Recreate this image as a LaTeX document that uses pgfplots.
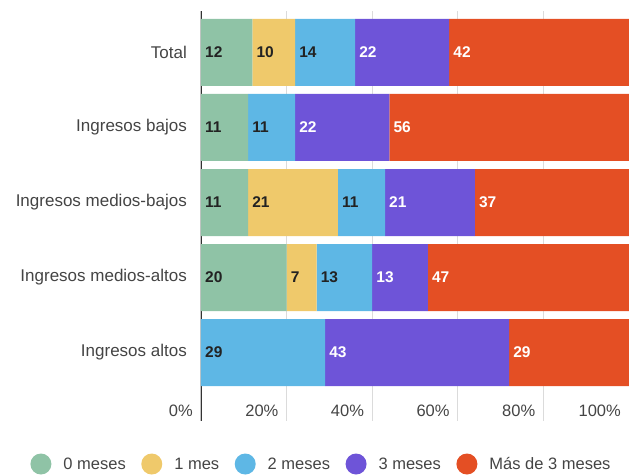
\documentclass[border=0pt]{standalone}
\usepackage{fontspec}
\setmainfont{Liberation Sans}
\usepackage{pgfplots}
\pgfplotsset{compat=1.18}
\usepackage{pgfplotstable}

\definecolor{c0}{HTML}{8FC3A6}
\definecolor{c1}{HTML}{EFC96B}
\definecolor{c2}{HTML}{5EB7E5}
\definecolor{c3}{HTML}{6E54D8}
\definecolor{c4}{HTML}{E44F24}
\definecolor{txt}{HTML}{444444}
\definecolor{dark}{HTML}{222222}
\definecolor{axisline}{HTML}{333333}

% meses sin ingresos, por nivel de ingresos (%)
\pgfplotstableread{
cat m0 m1 m2 m3 m4
0   12 10 14 22 42
1   11 0  11 22 56
2   11 21 11 21 37
3   20 7  13 13 47
4   0  0  29 43 29
}\datos
% where each segment starts, for the value labels
\pgfplotstablecreatecol[create col/expr={0}]{s0}\datos
\pgfplotstablecreatecol[create col/expr={\thisrow{m0}}]{s1}\datos
\pgfplotstablecreatecol[create col/expr={\thisrow{s1}+\thisrow{m1}}]{s2}\datos
\pgfplotstablecreatecol[create col/expr={\thisrow{s2}+\thisrow{m2}}]{s3}\datos
\pgfplotstablecreatecol[create col/expr={\thisrow{s3}+\thisrow{m3}}]{s4}\datos

\pgfplotsset{
  base/.style={
    width=428pt, height=410pt, scale only axis,
    xmin=0, xmax=100, ymin=-0.553, ymax=4.913,
    y dir=reverse,
  },
  lab/.style 2 args={
    draw=none, mark=none, forget plot,
    nodes near coords, point meta=explicit symbolic,
    restrict expr to domain={\thisrow{m#1}}{0.5:1000},
    nodes near coords style={anchor=west, inner sep=0pt, xshift=4pt,
      text=#2, font=\fontsize{15.5}{17}\selectfont\bfseries},
  },
}

\begin{document}
\begin{tikzpicture}
\begin{axis}[
  name=ax, base,
  xbar stacked,
  bar width=67pt,
  ytick={0,...,4},
  yticklabels={Total, Ingresos bajos, Ingresos medios-bajos, Ingresos medios-altos, Ingresos altos},
  xtick={0,20,...,100},
  xticklabels={0\%,20\%,40\%,60\%,80\%,100\%},
  major tick length=0pt,
  axis line style={draw=none},
  xmajorgrids,
  grid style={draw=black!14, line width=1pt},
  xticklabel style={font=\fontsize{16.5}{18}\selectfont, text=txt,
    anchor=east, inner sep=0pt, xshift=-8pt, yshift=10pt},
  yticklabel style={font=\fontsize{17}{19}\selectfont, text=txt,
    anchor=east, inner sep=0pt, xshift=-14pt},
  legend image code/.code={\fill[#1] (10.5pt,0pt) circle (10.5pt);},
  legend columns=5,
  legend style={at={(-0.399,-0.1049)}, anchor=west, draw=none, fill=none,
    inner sep=0pt, font=\fontsize{16.5}{18}\selectfont, text=txt,
    nodes={inner sep=0pt},
    /tikz/every odd column/.append style={column sep=12pt},
    /tikz/every even column/.append style={column sep=15.5pt,
      text height=12.5pt, text depth=4pt}},
]
\addplot[fill=c0, draw=none] table[x=m0, y=cat] {\datos};
\addplot[fill=c1, draw=none] table[x=m1, y=cat] {\datos};
\addplot[fill=c2, draw=none] table[x=m2, y=cat] {\datos};
\addplot[fill=c3, draw=none] table[x=m3, y=cat] {\datos};
\addplot[fill=c4, draw=none] table[x=m4, y=cat] {\datos};
\legend{0 meses, 1 mes, 2 meses, 3 meses, Más de 3 meses}
\draw[axisline, line width=2pt] (rel axis cs:0,0) -- (rel axis cs:0,1);
\end{axis}
\begin{axis}[base, hide axis, clip=false]
\addplot[lab={0}{dark}]  table[x=s0, y=cat, meta=m0] {\datos};
\addplot[lab={1}{dark}]  table[x=s1, y=cat, meta=m1] {\datos};
\addplot[lab={2}{dark}]  table[x=s2, y=cat, meta=m2] {\datos};
\addplot[lab={3}{white}] table[x=s3, y=cat, meta=m3] {\datos};
\addplot[lab={4}{white}] table[x=s4, y=cat, meta=m4] {\datos};
\end{axis}
\pgfresetboundingbox
\path (ax.south west) ++(-201pt,-53pt) rectangle ++(629pt,474pt);
\end{tikzpicture}
\end{document}
